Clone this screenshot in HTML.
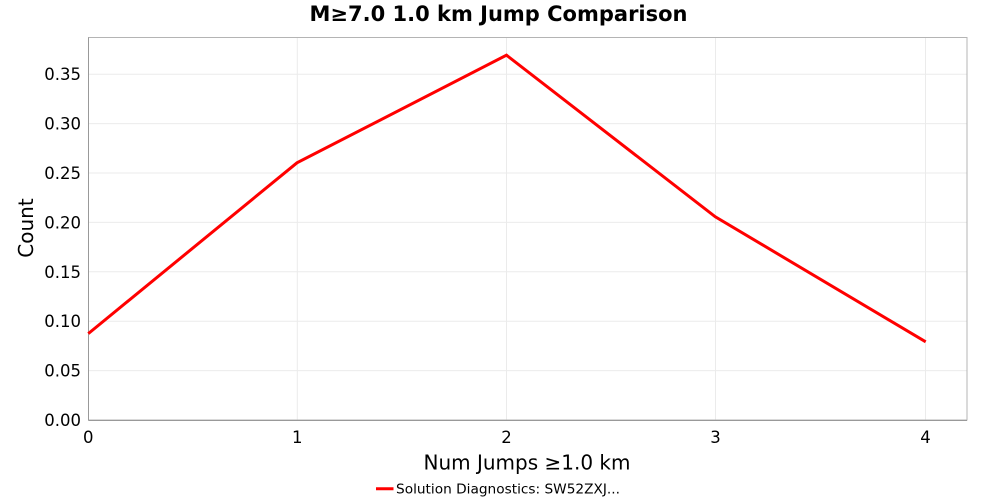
<!DOCTYPE html>
<html><head><meta charset="utf-8"><style>
html,body{margin:0;padding:0;background:#fff;}
svg{display:block;}
text{font-family:"DejaVu Sans","Liberation Sans",sans-serif;}
</style></head><body>
<svg width="1000" height="500" viewBox="0 0 1000 500" xmlns="http://www.w3.org/2000/svg">
<rect width="1000" height="500" fill="#fff"/>
<text x="498.5" y="21" text-anchor="middle" font-size="21" font-weight="bold" fill="#000">M≥7.0 1.0 km Jump Comparison</text>
<g stroke="#ebebeb" stroke-width="1">
<line x1="88.5" y1="370.6" x2="967" y2="370.6"/>
<line x1="88.5" y1="321.2" x2="967" y2="321.2"/>
<line x1="88.5" y1="271.8" x2="967" y2="271.8"/>
<line x1="88.5" y1="222.4" x2="967" y2="222.4"/>
<line x1="88.5" y1="173" x2="967" y2="173"/>
<line x1="88.5" y1="123.6" x2="967" y2="123.6"/>
<line x1="88.5" y1="74.2" x2="967" y2="74.2"/>
<line x1="297.3" y1="37.5" x2="297.3" y2="420"/>
<line x1="506.5" y1="37.5" x2="506.5" y2="420"/>
<line x1="715.5" y1="37.5" x2="715.5" y2="420"/>
<line x1="925.5" y1="37.5" x2="925.5" y2="420"/>
</g>
<rect x="88.5" y="37.5" width="878.5" height="382.5" fill="none" stroke="#b4b4b4" stroke-width="1"/>
<line x1="88.5" y1="37.5" x2="88.5" y2="420.5" stroke="#999" stroke-width="1"/>
<line x1="88.5" y1="420.5" x2="967" y2="420.5" stroke="#999" stroke-width="1"/>
<polyline points="88.3,333.6 297,162.8 506.5,55.2 715.3,216.8 925.7,341.8" fill="none" stroke="#ff0000" stroke-width="3" stroke-linejoin="miter"/>
<g font-size="16.5" fill="#000" text-anchor="end">
<text x="81" y="426">0.00</text>
<text x="81" y="376.6">0.05</text>
<text x="81" y="327.2">0.10</text>
<text x="81" y="277.8">0.15</text>
<text x="81" y="228.4">0.20</text>
<text x="81" y="179">0.25</text>
<text x="81" y="129.6">0.30</text>
<text x="81" y="80.2">0.35</text>
</g>
<g font-size="16.5" fill="#000" text-anchor="middle">
<text x="88.3" y="443">0</text>
<text x="297.3" y="443">1</text>
<text x="506.5" y="443">2</text>
<text x="715.5" y="443">3</text>
<text x="925.5" y="443">4</text>
</g>
<text x="527" y="469.5" text-anchor="middle" font-size="20" fill="#000">Num Jumps ≥1.0 km</text>
<text transform="translate(33,228) rotate(-90)" text-anchor="middle" font-size="20" fill="#000">Count</text>
<line x1="376" y1="488.7" x2="393.5" y2="488.7" stroke="#ff0000" stroke-width="3"/>
<text x="396" y="493.5" font-size="13.7" fill="#000">Solution Diagnostics: SW52ZXJ...</text>
</svg>
</body></html>
